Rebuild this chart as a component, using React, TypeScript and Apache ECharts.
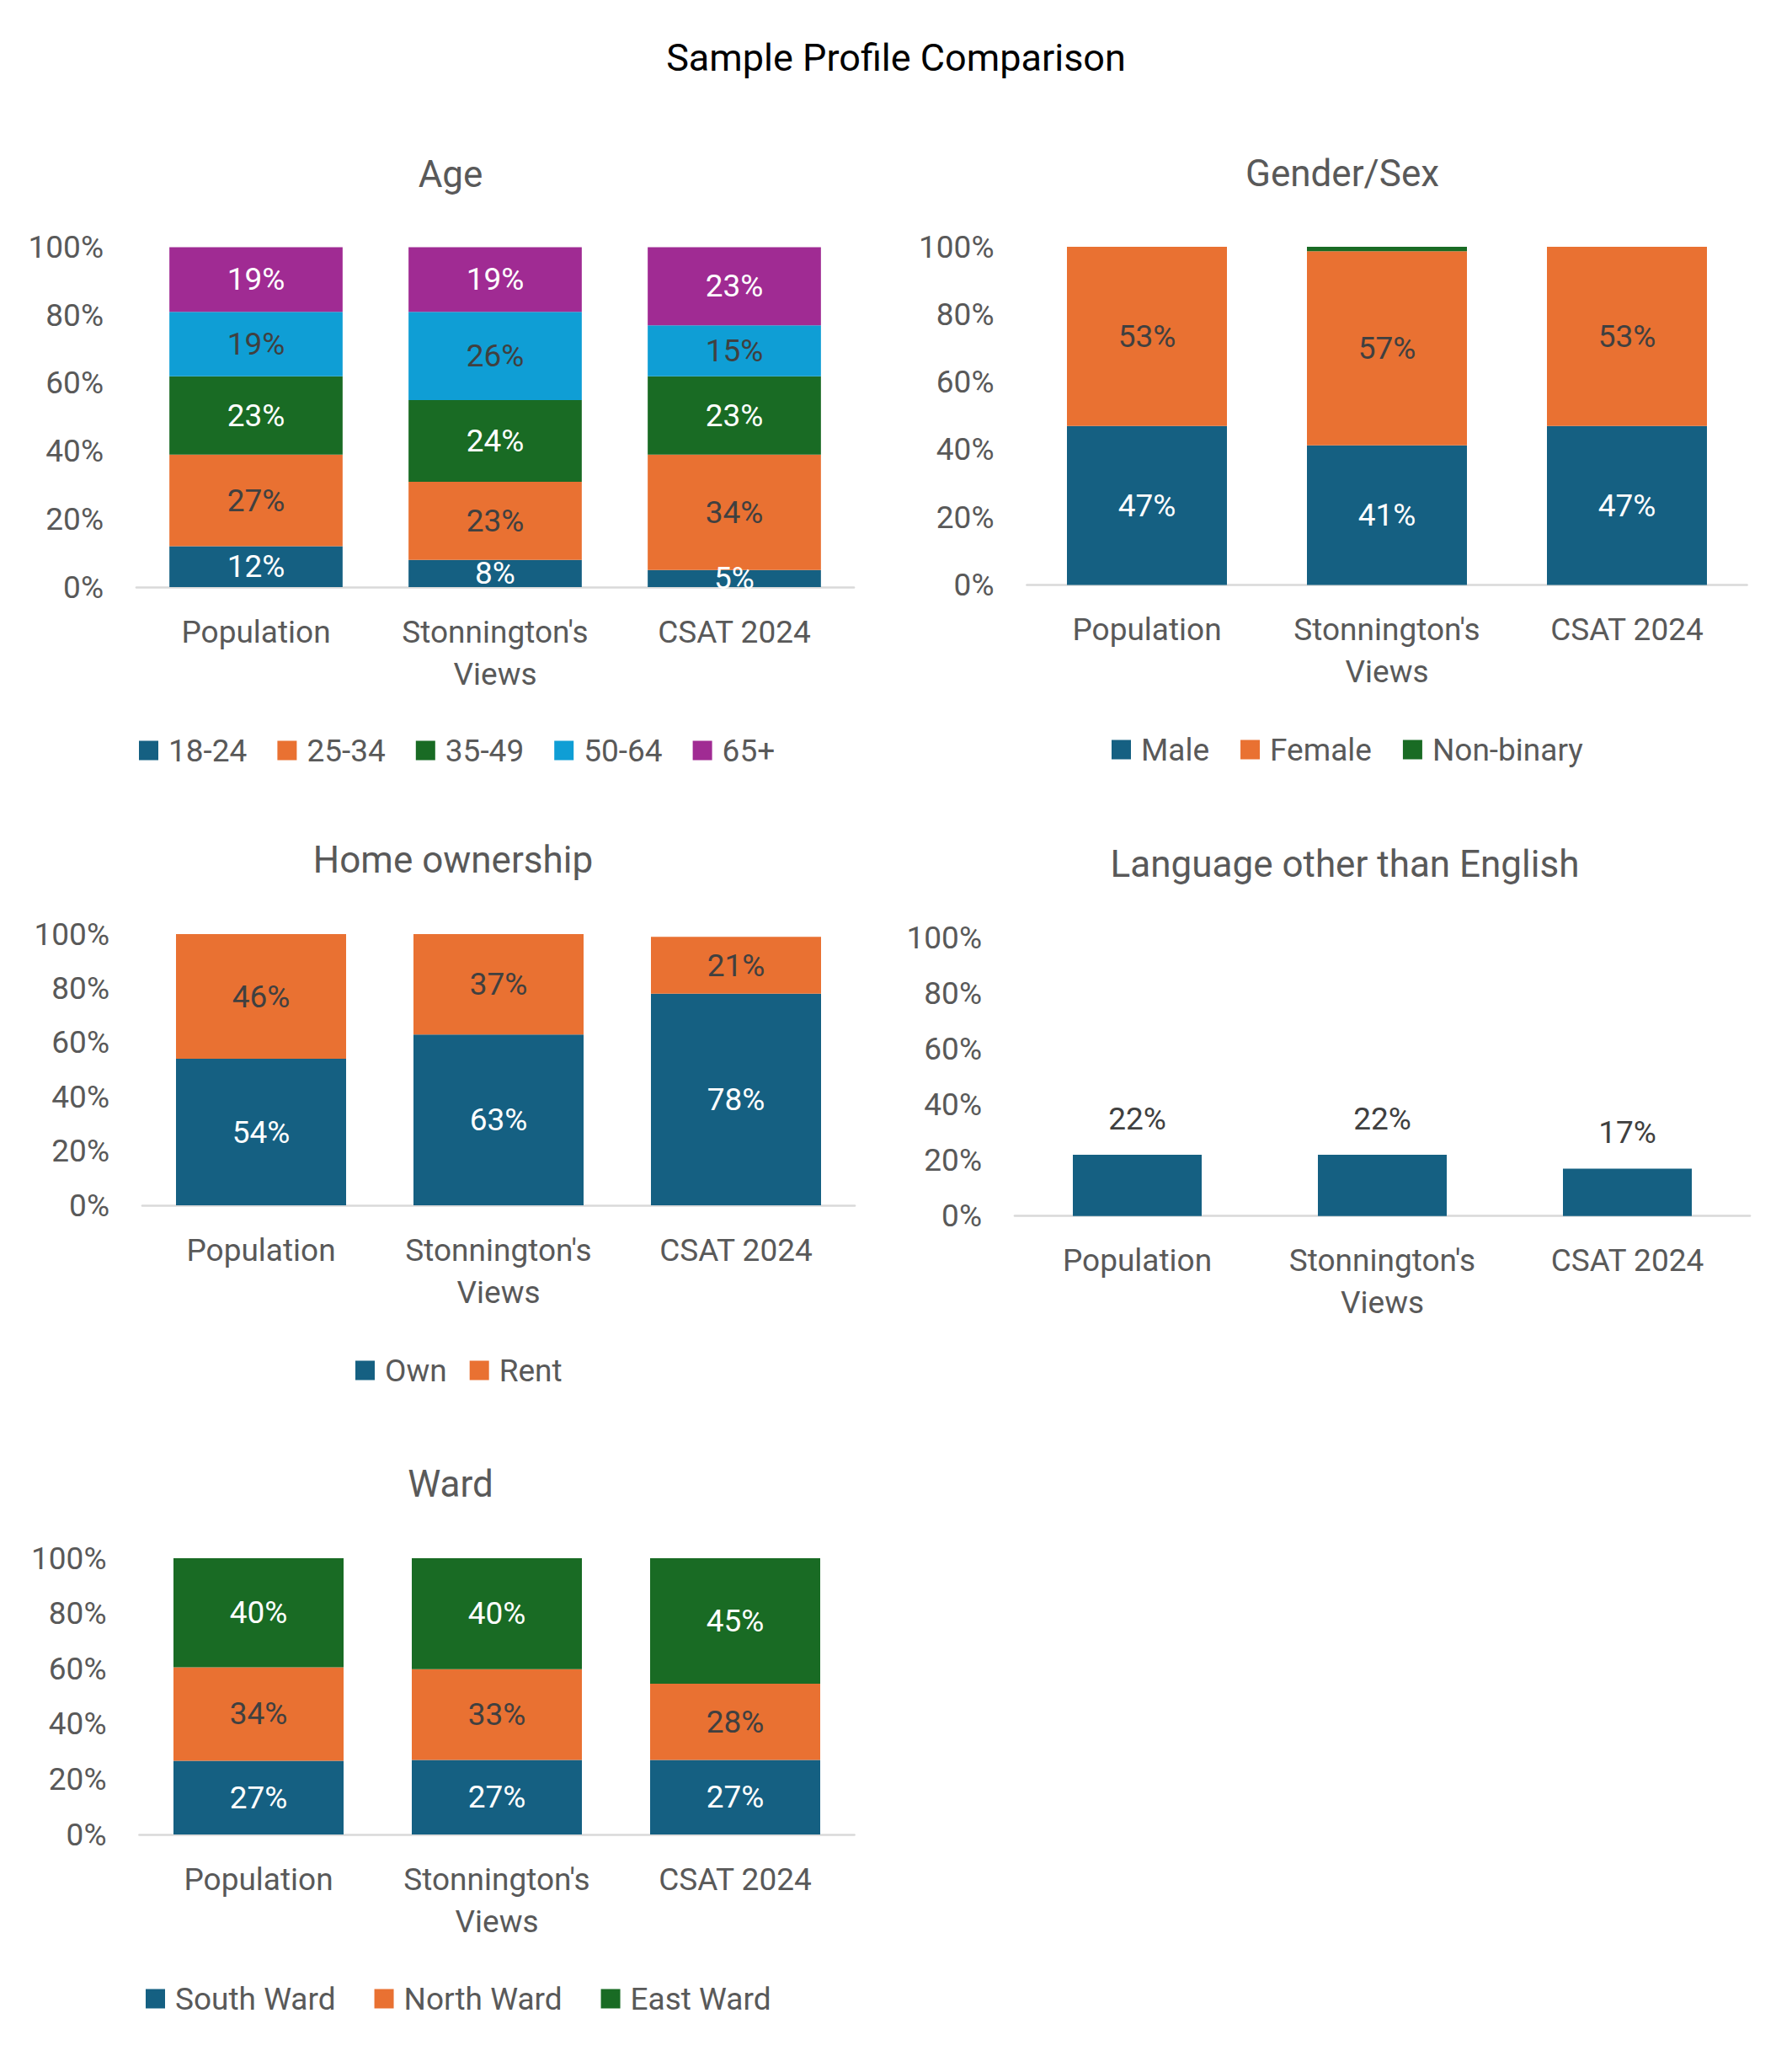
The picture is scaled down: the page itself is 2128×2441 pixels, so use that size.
import React, { useEffect, useRef } from "react";
import * as echarts from "echarts";

// Categories shared by every panel
const categories = ["Population", "Stonnington's Views", "CSAT 2024"];

// Age (% of each group)
const age18to24 = [12, 8, 5];
const age25to34 = [27, 23, 34];
const age35to49 = [23, 24, 23];
const age50to64 = [19, 26, 15];
const age65plus = [19, 19, 23];

// Gender/Sex
const genderMale = [47, 41.3, 47];
const genderFemale = [53, 57.4, 53];
const genderNonBinary = [0, 1.3, 0];

// Home ownership
const homeOwn = [54, 63, 78];
const homeRent = [46, 37, 21];

// Language other than English
const otherLanguage = [22, 22, 17];

// Ward
const wardSouth = [26.7, 27.0, 27.0];
const wardNorth = [33.8, 32.8, 27.6];
const wardEast = [39.5, 40.2, 45.4];

const yTicks = { min: 0, max: 100, interval: 20 };

const FONT = "Roboto";
const GREY = "#595959";
const DARK_LABEL = "#404040";
const C_BLUE = "#156082";
const C_ORANGE = "#E97132";
const C_GREEN = "#196B24";
const C_SKY = "#0F9ED5";
const C_PURPLE = "#A02B93";

const pct = (p: any) => Math.round(p.value) + "%";

function makeXAxis(gridIndex: number) {
  return {
    type: "category",
    gridIndex,
    data: categories,
    axisLine: { show: true, lineStyle: { color: "#D9D9D9", width: 2.7 } },
    axisTick: { show: false },
    axisLabel: {
      interval: 0,
      color: GREY,
      fontSize: 37,
      fontFamily: FONT,
      lineHeight: 50,
      margin: 28,
      formatter: (v: string) => v.replace("'s ", "'s\n"),
    },
    splitLine: { show: false },
  };
}

function makeYAxis(gridIndex: number) {
  return {
    type: "value",
    gridIndex,
    min: yTicks.min,
    max: yTicks.max,
    interval: yTicks.interval,
    axisLine: { show: false },
    axisTick: { show: false },
    splitLine: { show: false },
    axisLabel: {
      formatter: "{value}%",
      color: GREY,
      fontSize: 37,
      fontFamily: FONT,
      margin: 39,
    },
  };
}

function stackedBar(
  name: string,
  data: number[],
  color: string,
  labelColor: string,
  axis: number,
  stack: string,
  barWidth: number,
  showLabel = true
) {
  return {
    type: "bar",
    name,
    data,
    stack,
    xAxisIndex: axis,
    yAxisIndex: axis,
    barWidth,
    itemStyle: { color },
    label: {
      show: showLabel,
      position: "inside",
      formatter: pct,
      color: labelColor,
      fontSize: 37,
      fontFamily: FONT,
    },
  };
}

function legendAt(names: string[], left: number, centerY: number, gap: number) {
  return {
    data: names,
    left,
    top: centerY - 18.5,
    orient: "horizontal",
    padding: 0,
    itemWidth: 23,
    itemHeight: 23,
    itemGap: gap,
    icon: "rect",
    selectedMode: false,
    textStyle: {
      color: GREY,
      fontSize: 37,
      fontFamily: FONT,
      lineHeight: 37,
      padding: [0, 0, 0, 7],
    },
  };
}

function titleText(text: string, x: number, y: number, size: number, color: string) {
  return {
    type: "text",
    x,
    y,
    silent: true,
    style: {
      text,
      fill: color,
      fontSize: size,
      fontFamily: FONT,
      align: "center",
      verticalAlign: "middle",
    },
  };
}

export default function App() {
  const ref = useRef<HTMLDivElement>(null);

  useEffect(() => {
    if (!ref.current) return;
    const chart = echarts.init(ref.current, undefined, { renderer: "svg" });

    const option: any = {
      animation: false,
      backgroundColor: "#FFFFFF",
      textStyle: { fontFamily: FONT },
      graphic: [
        titleText("Sample Profile Comparison", 1064, 68, 45, "#000000"),
        titleText("Age", 535, 207, 44, GREY),
        titleText("Gender/Sex", 1594, 205.5, 44, GREY),
        titleText("Home ownership", 538, 1021, 44, GREY),
        titleText("Language other than English", 1597, 1026, 44, GREY),
        titleText("Ward", 535, 1762, 44, GREY),
      ],
      grid: [
        { left: 162, top: 293.5, width: 852, height: 403.5 },
        { left: 1219.5, top: 293, width: 855, height: 401.5 },
        { left: 169, top: 1109, width: 846, height: 322 },
        { left: 1205, top: 1113, width: 873, height: 330.7 },
        { left: 165.5, top: 1850, width: 849, height: 328 },
      ],
      xAxis: [0, 1, 2, 3, 4].map(makeXAxis),
      yAxis: [0, 1, 2, 3, 4].map(makeYAxis),
      legend: [
        legendAt(["18-24", "25-34", "35-49", "50-64", "65+"], 165, 891, 36),
        legendAt(["Male", "Female", "Non-binary"], 1320, 890, 37),
        legendAt(["Own", "Rent"], 422, 1627, 27),
        legendAt(["South Ward", "North Ward", "East Ward"], 173, 2373, 46),
      ],
      series: [
        stackedBar("18-24", age18to24, C_BLUE, "#FFFFFF", 0, "age", 205.7),
        stackedBar("25-34", age25to34, C_ORANGE, DARK_LABEL, 0, "age", 205.7),
        stackedBar("35-49", age35to49, C_GREEN, "#FFFFFF", 0, "age", 205.7),
        stackedBar("50-64", age50to64, C_SKY, DARK_LABEL, 0, "age", 205.7),
        stackedBar("65+", age65plus, C_PURPLE, "#FFFFFF", 0, "age", 205.7),

        stackedBar("Male", genderMale, C_BLUE, "#FFFFFF", 1, "gender", 190),
        stackedBar("Female", genderFemale, C_ORANGE, DARK_LABEL, 1, "gender", 190),
        stackedBar("Non-binary", genderNonBinary, C_GREEN, "#FFFFFF", 1, "gender", 190, false),

        stackedBar("Own", homeOwn, C_BLUE, "#FFFFFF", 2, "home", 202),
        stackedBar("Rent", homeRent, C_ORANGE, DARK_LABEL, 2, "home", 202),

        {
          type: "bar",
          name: "Language other than English",
          data: otherLanguage,
          xAxisIndex: 3,
          yAxisIndex: 3,
          barWidth: 153,
          itemStyle: { color: C_BLUE },
          label: {
            show: true,
            position: "top",
            distance: 24,
            formatter: pct,
            color: DARK_LABEL,
            fontSize: 37,
            fontFamily: FONT,
          },
        },

        stackedBar("South Ward", wardSouth, C_BLUE, "#FFFFFF", 4, "ward", 202),
        stackedBar("North Ward", wardNorth, C_ORANGE, DARK_LABEL, 4, "ward", 202),
        stackedBar("East Ward", wardEast, C_GREEN, "#FFFFFF", 4, "ward", 202),
      ],
    };

    chart.setOption(option);
    return () => {
      chart.dispose();
    };
  }, []);

  return (
    <div
      ref={ref}
      style={{
        position: "absolute",
        left: 0,
        top: 0,
        width: 2128,
        height: 2441,
        background: "#FFFFFF",
      }}
    />
  );
}
